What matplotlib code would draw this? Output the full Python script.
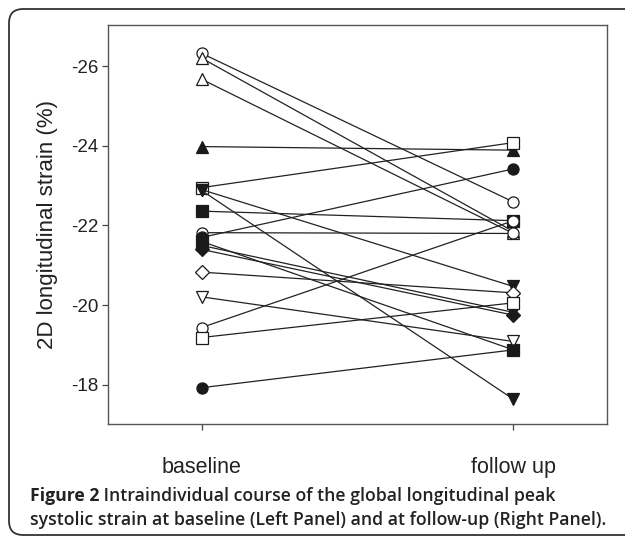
import matplotlib
matplotlib.use("Agg")
import matplotlib.pyplot as plt
from matplotlib.patches import FancyBboxPatch
from matplotlib.transforms import IdentityTransform

plt.rcParams['axes.unicode_minus'] = False

# ---- data ----
categories = ["baseline", "follow up"]
baseline = [-26.32, -26.20, -25.67, -23.98, -22.95, -22.88, -22.90, -22.36,
            -21.82, -21.70, -21.60, -21.50, -21.40, -20.83, -20.21, -19.44,
            -19.19, -17.93]
follow_up = [-22.59, -21.85, -21.80, -23.89, -24.08, -17.64, -20.47, -22.12,
             -21.80, -23.42, -18.88, -19.82, -19.75, -20.31, -19.09, -22.12,
             -20.06, -18.88]
markers = ['o', '^', '^', '^', 's', 'v', 'v', 's',
           'o', 'o', 's', 'v', 'D', 'D', 'v', 'o',
           's', 'o']
filled = [False, False, False, True, False, True, True, True,
          False, True, True, True, True, False, False, False,
          False, True]
yticks = [-26, -24, -22, -20, -18]
ytick_labels = ["-26", "-24", "-22", "-20", "-18"]
ylabel = "2D longitudinal strain (%)"
caption_bold = "Figure 2"
caption_rest1 = " Intraindividual course of the global longitudinal peak"
caption_line2 = "systolic strain at baseline (Left Panel) and at follow-up (Right Panel)."

W, H, DPI = 625, 537, 100
fig = plt.figure(figsize=(W / DPI, H / DPI), dpi=DPI)
ax = fig.add_axes([108 / W, 1 - 424 / H, (607 - 108) / W, (424 - 25) / H])

xpos = [0, 1]
for b, f, m, fl in zip(baseline, follow_up, markers, filled):
    ms = 8.0 if m != 'D' else 6.8
    if m in ('^', 'v'):
        ms = 8.8
    ax.plot(xpos, [b, f], color='#222222', lw=0.9, marker=m, ms=ms,
            mfc='#1a1a1a' if fl else 'white', mec='#1a1a1a', mew=0.9,
            zorder=3)

ax.set_xlim(-0.3, 1.3)
ax.set_ylim(-17.02, -27.03)
ax.set_xticks(xpos)
ax.set_xticklabels(categories, fontsize=15.5, family='Liberation Sans',
                   color='#222222')
ax.set_yticks(yticks)
ax.set_yticklabels(ytick_labels, fontsize=13.5, family='Liberation Sans',
                   color='#222222')
ax.tick_params(axis='both', direction='out', length=4, width=0.9,
               color='#444444', top=False, right=False)
ax.tick_params(axis='x', pad=20)
ax.tick_params(axis='y', pad=3)
for s in ax.spines.values():
    s.set_color('#555555')
    s.set_linewidth(1.0)
ax.set_ylabel(ylabel, fontsize=16, family='Liberation Sans',
              color='#222222', labelpad=9)

# caption
fs = 12.7
t1 = fig.text(30 / W, 1 - 496 / H, caption_bold, fontsize=fs,
              family='Open Sans', weight='bold', color='#222222',
              va='center', ha='left')
fig.canvas.draw()
bb = t1.get_window_extent()
fig.text(bb.x1 / W, 1 - 496 / H, caption_rest1, fontsize=fs,
         family='Open Sans', weight='semibold', color='#222222',
         va='center', ha='left')
fig.text(30 / W, 1 - 520 / H, caption_line2, fontsize=fs,
         family='Open Sans', weight='semibold', color='#222222',
         va='center', ha='left')

# rounded frame
frame = FancyBboxPatch((9, 2), 660, 526, boxstyle="round,pad=0,rounding_size=14",
                       transform=IdentityTransform(), fill=False,
                       edgecolor='#333333', linewidth=1.3)
fig.add_artist(frame)

fig.savefig("out.png", dpi=DPI)
